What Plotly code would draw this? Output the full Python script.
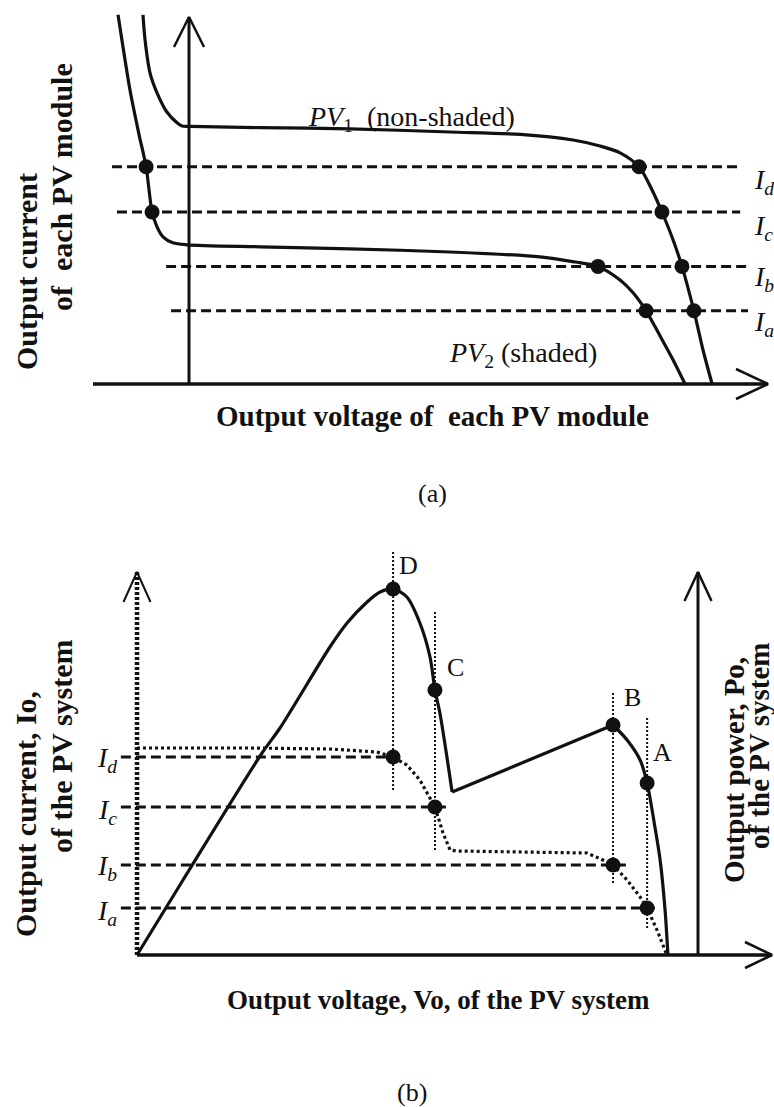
import plotly.graph_objects as go

# ======================= DATA : panel (a) =======================
# PV1 (non-shaded) I-V curve: voltage (V), current (A)
pv1_v = [-1.77, -1.69, -1.50, -1.23, -0.85, -0.46, -0.27, 0.04, 2.73, 6.19, 10.04, 12.73,
         14.77, 15.81, 16.58, 17.31, 17.81, 18.19, 18.62, 18.96, 19.42, 19.77, 20.12]
pv1_i = [9.23, 8.60, 7.78, 7.28, 6.80, 6.53, 6.45, 6.44, 6.41, 6.38, 6.30, 6.24,
         6.10, 5.95, 5.78, 5.43, 4.85, 4.30, 3.60, 2.94, 1.83, 0.85, 0.00]
# PV2 (shaded) I-V curve
pv2_v = [-2.73, -2.58, -2.27, -1.92, -1.65, -1.42, -1.23, -1.00, -0.62, -0.08, 2.73, 6.19,
         10.04, 13.50, 14.85, 15.73, 16.58, 17.08, 17.58, 18.12, 18.58, 19.08]
pv2_i = [9.23, 8.60, 7.35, 6.23, 5.43, 4.30, 3.93, 3.68, 3.53, 3.48, 3.43, 3.38,
         3.30, 3.18, 3.05, 2.94, 2.60, 2.28, 1.83, 1.20, 0.65, 0.00]
# operating currents Id, Ic, Ib, Ia
level_names = ["d", "c", "b", "a"]
levels_a = [5.43, 4.30, 2.94, 1.83]
dash_start_a = [-2.96, -2.77, -0.88, -0.69]
dash_end_a = [21.10, 21.20, 21.50, 21.50]
pv1_dot_v = [17.31, 18.19, 18.96, 19.42]
pv2_dot_v = [-1.65, -1.42, 15.73, 17.58]

# ======================= DATA : panel (b) =======================
# output power of the PV system (rising part up to the local minimum)
pow_left_v = [0.00, 1.77, 4.81, 5.50, 7.42, 8.08, 8.85, 9.35, 9.85, 10.38, 10.88, 11.27,
              11.46, 11.65, 11.92, 12.12]
pow_left_p = [0.0, 37.5, 101.0, 113.5, 154.0, 166.0, 176.5, 181.5, 183.0, 179.0, 166.0, 149.0,
              132.5, 121.0, 99.0, 81.5]
# output power from the second peak B down to open circuit
pow_right_v = [18.31, 18.85, 19.35, 19.62, 19.92, 20.12, 20.31, 20.42]
pow_right_p = [115.0, 107.5, 97.5, 86.0, 64.0, 47.5, 22.5, 0.0]
# output current of the PV system
cur_v = [0.00, 4.35, 7.42, 9.23, 9.85, 10.38, 10.88, 11.46, 11.77, 12.04, 12.27, 14.73,
         17.31, 17.92, 18.31, 18.85, 19.35, 19.62, 20.00, 20.38]
cur_i = [5.175, 5.175, 5.15, 5.075, 4.95, 4.75, 4.375, 3.70, 3.05, 2.625, 2.60, 2.575,
         2.55, 2.375, 2.25, 1.875, 1.45, 1.175, 0.625, 0.00]
# operating points D, C, B, A
op_names = ["D", "C", "B", "A"]
op_v = [9.85, 11.46, 18.31, 19.62]
op_p = [183.0, 132.5, 115.0, 86.0]
levels_b = [4.95, 3.70, 2.25, 1.175]
guide_top = [201.5, 171.5, 131.0, 119.0]
guide_bot = [82.5, 52.5, 36.0, 13.5]
dash_start_b = -0.62
dash_end_b = [9.60, 11.96, 18.96, 19.92]

# ======================= LAYOUT GEOMETRY =======================
W, H = 774, 1107
SPLIT = 520
X0A, Y0A, SXA, SYA = 189, 384, 26.0, 40.0
X0B, Y0B, SXB, SYB, SPB = 137, 955, 26.0, 40.0, 2.0

SERIF = "Liberation Serif, Times New Roman, serif"
BLACK = "#111111"

fig = go.Figure()


def seg(xs, ys, xa, ya, width=3, dash=None, shape="linear", smoothing=1.0):
    line = dict(color=BLACK, width=width, shape=shape)
    if shape == "spline":
        line["smoothing"] = smoothing
    if dash:
        line["dash"] = dash
    fig.add_trace(go.Scatter(x=xs, y=ys, mode="lines", line=line, xaxis=xa, yaxis=ya,
                             hoverinfo="skip", showlegend=False))


def dots(xs, ys, xa, ya, size=15):
    fig.add_trace(go.Scatter(x=xs, y=ys, mode="markers", xaxis=xa, yaxis=ya,
                             marker=dict(color=BLACK, size=size, line=dict(width=0)),
                             hoverinfo="skip", showlegend=False))


def up_arrow(xv, ytip, xa, ya, sx, sy, half=15, length=30, width=2.5):
    dx, dy = half / sx, length / sy
    seg([xv - dx, xv, xv + dx], [ytip - dy, ytip, ytip - dy], xa, ya, width=width)


def right_arrow(xtip, yh, xa, ya, sx, sy, half=15, length=32, width=2.5):
    dx, dy = length / sx, half / sy
    seg([xtip - dx, xtip, xtip - dx], [yh + dy, yh, yh - dy], xa, ya, width=width)


# ----------------------- panel (a) -----------------------
a_vtip = (Y0A - 17) / SYA
a_hstart = (93 - X0A) / SXA
a_htip = (768 - X0A) / SXA
seg([0, 0], [0, a_vtip], "x", "y", width=3)
seg([a_hstart, a_htip], [0, 0], "x", "y", width=3.5)
up_arrow(0, a_vtip, "x", "y", SXA, SYA)
right_arrow(a_htip, 0, "x", "y", SXA, SYA)

for lv, s, e in zip(levels_a, dash_start_a, dash_end_a):
    seg([s, e], [lv, lv], "x", "y", width=3, dash="10px,5px")

seg(pv1_v, pv1_i, "x", "y", width=3.2, shape="spline", smoothing=0.8)
seg(pv2_v, pv2_i, "x", "y", width=3.2, shape="spline", smoothing=0.8)
dots(pv1_dot_v, levels_a, "x", "y")
dots(pv2_dot_v, levels_a, "x", "y")

# ----------------------- panel (b) -----------------------
b_vtip = (Y0B - 572) / SYB
b_right = (698 - X0B) / SXB
b_htip = (772 - X0B) / SXB
seg([0, 0], [0, b_vtip], "x2", "y2", width=4.5, dash="3px,2px")
up_arrow(0, b_vtip, "x2", "y2", SXB, SYB, half=13.5, length=30, width=2)
seg([b_right, b_right], [0, b_vtip], "x2", "y2", width=3)
up_arrow(b_right, b_vtip, "x2", "y2", SXB, SYB, half=13.5, length=29, width=2.5)
seg([0, b_htip], [0, 0], "x2", "y2", width=3.5)
right_arrow(b_htip, 0, "x2", "y2", SXB, SYB, half=13, length=27)

for lv, e in zip(levels_b, dash_end_b):
    seg([dash_start_b, e], [lv, lv], "x2", "y2", width=3, dash="10px,5px")

for v, t, b in zip(op_v, guide_top, guide_bot):
    seg([v, v], [b, t], "x2", "y3", width=2, dash="2px,2px")

seg(cur_v, cur_i, "x2", "y2", width=3.2, dash="3px,3px")

seg(pow_left_v, pow_left_p, "x2", "y3", width=3.2, shape="spline", smoothing=0.8)
seg([pow_left_v[-1], pow_right_v[0]], [pow_left_p[-1], pow_right_p[0]], "x2", "y3", width=3.2)
seg(pow_right_v, pow_right_p, "x2", "y3", width=3.2, shape="spline", smoothing=0.8)

dots(op_v, op_p, "x2", "y3")
dots(op_v, levels_b, "x2", "y2")

# ----------------------- annotations -----------------------
ann = []


def text(t, x, y, xref, yref, size=26, bold=False, angle=0, xanchor="center"):
    if bold:
        t = "<b>" + t + "</b>"
    ann.append(dict(text=t, x=x, y=y, xref=xref, yref=yref, showarrow=False,
                    textangle=angle, xanchor=xanchor, yanchor="middle",
                    font=dict(family=SERIF, size=size, color=BLACK)))


# panel (a)
text("Output voltage of&nbsp; each PV module", (432 - X0A) / SXA, (Y0A - 416) / SYA, "x", "y", size=29, bold=True)
text("(a)", (432 - X0A) / SXA, (Y0A - 493) / SYA, "x", "y", size=26)
text("Output current", (26 - X0A) / SXA, (Y0A - 272) / SYA, "x", "y", size=30, bold=True, angle=-90)
text("of&nbsp; each PV module", (61 - X0A) / SXA, (Y0A - 187) / SYA, "x", "y", size=30, bold=True, angle=-90)
text("<i>PV</i><sub>1</sub>&nbsp; (non-shaded)", (306 - X0A) / SXA, (Y0A - 118) / SYA, "x", "y", size=28, xanchor="left")
text("<i>PV</i><sub>2</sub> (shaded)", (447 - X0A) / SXA, (Y0A - 354) / SYA, "x", "y", size=28, xanchor="left")
a_lab_y = [181, 227, 278, 323]
for nm, py in zip(level_names, a_lab_y):
    text("<i>I</i><sub><i>%s</i></sub>" % nm, (752 - X0A) / SXA, (Y0A - py) / SYA, "x", "y", size=28, xanchor="left")

# panel (b)
text("Output voltage, Vo, of the PV system", (438 - X0B) / SXB, (Y0B - 1000) / SYB, "x2", "y2", size=27, bold=True)
text("(b)", (412 - X0B) / SXB, (Y0B - 1092) / SYB, "x2", "y2", size=26)
text("Output current, Io,", (25 - X0B) / SXB, (Y0B - 814) / SYB, "x2", "y2", size=30, bold=True, angle=-90)
text("of the PV system", (61 - X0B) / SXB, (Y0B - 746) / SYB, "x2", "y2", size=30, bold=True, angle=-90)
text("Output power, Po,", (734 - X0B) / SXB, (Y0B - 770) / SYB, "x2", "y2", size=29, bold=True, angle=-90)
text("of the PV system", (759 - X0B) / SXB, (Y0B - 746) / SYB, "x2", "y2", size=29, bold=True, angle=-90)
b_lab_y = [759, 811, 867, 912]
for nm, py in zip(level_names, b_lab_y):
    text("<i>I</i><sub><i>%s</i></sub>" % nm, (119 - X0B) / SXB, (Y0B - py) / SYB, "x2", "y2", size=28, xanchor="right")
op_lab_px = [(408, 565), (455, 667), (632, 697), (662, 752)]
for nm, (px, py) in zip(op_names, op_lab_px):
    text(nm, (px - X0B) / SXB, (Y0B - py) / SPB, "x2", "y3", size=26)

hidden = dict(visible=False, showgrid=False, zeroline=False, fixedrange=True)
fig.update_layout(
    width=W, height=H,
    margin=dict(l=0, r=0, t=0, b=0),
    paper_bgcolor="white", plot_bgcolor="white",
    showlegend=False,
    xaxis=dict(hidden, domain=[0, 1], range=[-X0A / SXA, (W - X0A) / SXA], anchor="y"),
    yaxis=dict(hidden, domain=[1 - SPLIT / H, 1], range=[(Y0A - SPLIT) / SYA, Y0A / SYA], anchor="x"),
    xaxis2=dict(hidden, domain=[0, 1], range=[-X0B / SXB, (W - X0B) / SXB], anchor="y2"),
    yaxis2=dict(hidden, domain=[0, 1 - SPLIT / H], range=[(Y0B - H) / SYB, (Y0B - SPLIT) / SYB], anchor="x2"),
    yaxis3=dict(hidden, overlaying="y2", range=[(Y0B - H) / SPB, (Y0B - SPLIT) / SPB], anchor="x2"),
    annotations=ann,
)

fig.write_html("out.html", config={"displayModeBar": False},
               post_script="document.body.style.margin='0';")
